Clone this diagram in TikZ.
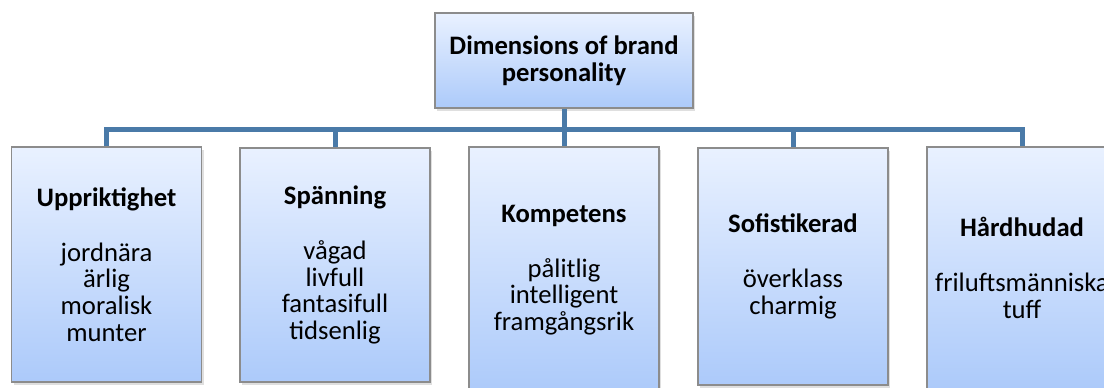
\documentclass[tikz,border=0pt]{standalone}
\usepackage{fontspec}
\setmainfont{Carlito}
\usetikzlibrary{shadows}

\definecolor{boxedge}{RGB}{140,140,140}
\definecolor{boxtop}{RGB}{233,241,255}
\definecolor{boxbottom}{RGB}{172,202,250}
\definecolor{linkblue}{RGB}{74,122,168}

\tikzset{
  dimbox/.style={draw=boxedge, line width=0.8pt, top color=boxtop, bottom color=boxbottom,
    align=center, inner sep=0pt, font=\fontsize{20}{20}\selectfont,
    drop shadow={opacity=0.25, shadow xshift=1.5pt, shadow yshift=-2pt}},
  link/.style={draw=linkblue, line width=3.75pt}
}

\begin{document}
\begin{tikzpicture}[x=0.75pt,y=-0.75pt]
\useasboundingbox (0,0) rectangle (1104,387);

%Shape: Rectangle, top of the tree
\node [dimbox, minimum width=193.5pt, minimum height=71.25pt] (brand) at (564,60.5)
  {\textbf{Dimensions of brand}\\\textbf{personality}};

%Shape: Rectangle, the five dimensions
\node [dimbox, minimum width=142.5pt, minimum height=176.25pt] (upp) at (106.5,264.5)
  {\textbf{Uppriktighet}\\[21pt] jordnära\\ ärlig\\ moralisk\\ munter};
\node [dimbox, minimum width=142.5pt, minimum height=175.5pt] (spa) at (335,265)
  {\textbf{Spänning}\\[21pt] vågad\\ livfull\\ fantasifull\\ tidsenlig};
\node [dimbox, minimum width=142.5pt, minimum height=184.5pt] (kom) at (564,270)
  {\textbf{Kompetens}\\[21pt] pålitlig\\ intelligent\\ framgångsrik};
\node [dimbox, minimum width=142.5pt, minimum height=177.75pt] (sof) at (793,266.5)
  {\textbf{Sofistikerad}\\[21pt] överklass\\ charmig};
\node [dimbox, minimum width=142.5pt, minimum height=181.5pt] (har) at (1022,268)
  {\textbf{Hårdhudad}\\[21pt] friluftsmänniska\\ tuff};

%Straight Lines, the bus between the levels
\coordinate (bus) at (564,129);
\draw [link] (brand.south) -- (brand.south |- bus);
\draw [link] (upp.north) -- (upp.north |- bus) -- (har.north |- bus) -- (har.north);
\foreach \n in {spa,kom,sof}
  \draw [link] (\n.north |- bus) -- (\n.north);

\end{tikzpicture}
\end{document}
